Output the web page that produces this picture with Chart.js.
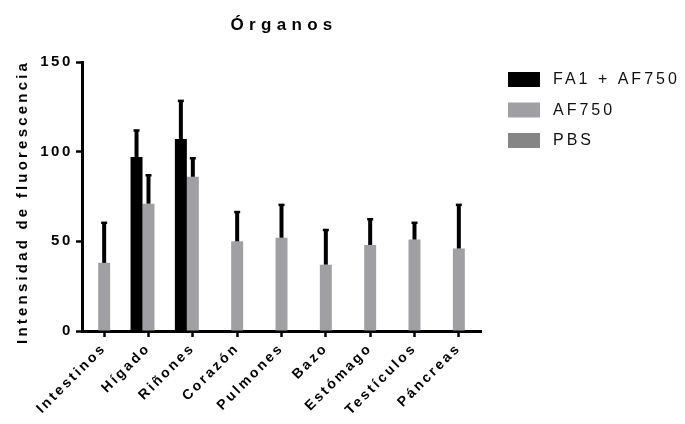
<!DOCTYPE html>
<html lang="es">
<head>
<meta charset="utf-8">
<title>Órganos</title>
<script src="https://cdn.jsdelivr.net/npm/chart.js@4.4.1/dist/chart.umd.min.js"></script>
<style>
  html, body { margin: 0; padding: 0; background: #fff; }
  #wrap { position: relative; width: 685px; height: 424px; }
</style>
</head>
<body>
<div id="wrap"><canvas id="organ-chart"></canvas></div>
<script>
// ============================================
// DATA
// ============================================
const categories = ['Intestinos', 'Hígado', 'Riñones', 'Corazón', 'Pulmones', 'Bazo', 'Estómago', 'Testículos', 'Páncreas'];
const seriesLabels = ['FA1 + AF750', 'AF750', 'PBS'];

const fa1Values   = [null, 97, 107, null, null, null, null, null, null];
const fa1Errors   = [null, 15.5, 22, null, null, null, null, null, null];
const af750Values = [38, 71, 86, 50, 52, 37, 48, 51, 46];
const af750Errors = [23, 16.5, 11, 17, 19, 20, 15, 10, 25];
const pbsValues   = [null, null, null, null, null, null, null, null, null];
const pbsErrors   = [null, null, null, null, null, null, null, null, null];

const yTicks = [0, 50, 100, 150];

const chartTitle = 'Órganos';
const yTitle = 'Intensidad de fluorescencia';
const FONT = "'Liberation Sans', Arial, sans-serif";

// ============================================
// PLUGINS
// ============================================

// spaced-out lettering like the original export
const spacingPlugin = {
  id: 'spacing',
  beforeDraw(chart) {
    chart.ctx.letterSpacing = '2.6px';
  },
  afterDraw(chart) {
    chart.ctx.letterSpacing = '0px';
  }
};

// upward-only error bars on top of each bar
const errorBarPlugin = {
  id: 'errorBars',
  afterDatasetsDraw(chart) {
    const ctx = chart.ctx;
    const yScale = chart.scales.y;
    chart.data.datasets.forEach((ds, di) => {
      const meta = chart.getDatasetMeta(di);
      if (!ds.errors) return;
      meta.data.forEach((bar, i) => {
        const v = ds.data[i];
        const e = ds.errors[i];
        if (v == null || e == null) return;
        const yTop = yScale.getPixelForValue(v + e);
        ctx.save();
        ctx.strokeStyle = '#000';
        ctx.lineWidth = 4;
        ctx.beginPath();
        ctx.moveTo(bar.x, bar.y);
        ctx.lineTo(bar.x, yTop + 1);
        ctx.stroke();
        ctx.lineWidth = 2.5;
        ctx.beginPath();
        ctx.moveTo(bar.x - 3, yTop + 1.2);
        ctx.lineTo(bar.x + 3, yTop + 1.2);
        ctx.stroke();
        ctx.restore();
      });
    });
  }
};

// title, axis title and legend
const textPlugin = {
  id: 'texts',
  afterDraw(chart) {
    const ctx = chart.ctx;
    const area = chart.chartArea;
    ctx.save();
    ctx.fillStyle = '#000';

    // chart title
    ctx.font = 'bold 17px ' + FONT;
    ctx.letterSpacing = '5.3px';
    ctx.textAlign = 'center';
    ctx.textBaseline = 'alphabetic';
    ctx.fillText(chartTitle, (area.left + area.right) / 2 + 2.6, 30);

    // y axis title
    ctx.save();
    ctx.translate(27, (area.top + area.bottom) / 2 + 7);
    ctx.rotate(-Math.PI / 2);
    ctx.font = 'bold 15px ' + FONT;
    ctx.letterSpacing = '3.2px';
    ctx.fillText(yTitle, 1.6, 0);
    ctx.restore();

    // legend
    ctx.font = '16px ' + FONT;
    ctx.letterSpacing = '3px';
    ctx.textAlign = 'left';
    ctx.textBaseline = 'middle';
    chart.data.datasets.forEach((ds, i) => {
      const y0 = 72 + i * 30.5;
      ctx.fillStyle = ds.backgroundColor;
      ctx.fillRect(508, y0, 32, 15);
      ctx.fillStyle = '#111';
      ctx.fillText(ds.label, 553, y0 + 8);
    });
    ctx.restore();
  }
};

// ============================================
// CHART
// ============================================
function initOrganChart() {
  const ctx = document.getElementById('organ-chart');

  const data = {
    labels: categories,
    datasets: [
      { label: seriesLabels[0], data: fa1Values, errors: fa1Errors, backgroundColor: '#000000' },
      { label: seriesLabels[1], data: af750Values, errors: af750Errors, backgroundColor: '#a0a0a4' },
      { label: seriesLabels[2], data: pbsValues, errors: pbsErrors, backgroundColor: '#858585' }
    ]
  };

  const config = {
    type: 'bar',
    data: data,
    options: {
      responsive: true,
      maintainAspectRatio: false,
      animation: false,
      datasets: {
        bar: {
          categoryPercentage: 0.81,
          barPercentage: 1,
          borderWidth: 0
        }
      },
      layout: {
        padding: { left: 0, right: 204, top: 62, bottom: 0 }
      },
      plugins: {
        legend: { display: false },
        title: { display: false },
        tooltip: { enabled: false }
      },
      scales: {
        x: {
          afterFit(scale) { scale.height = 93; },
          grid: {
            offset: false,
            drawOnChartArea: false,
            drawTicks: true,
            tickLength: 6,
            tickWidth: 2.5,
            color: '#000'
          },
          border: { color: '#000', width: 3 },
          ticks: {
            color: '#000',
            minRotation: 45,
            maxRotation: 45,
            autoSkip: false,
            padding: 3,
            font: { family: FONT, size: 14, weight: 'bold' }
          }
        },
        y: {
          min: 0,
          max: 150,
          afterFit(scale) { scale.width = 82; },
          afterBuildTicks(scale) {
            scale.ticks = yTicks.map(v => ({ value: v }));
          },
          grid: {
            drawOnChartArea: false,
            drawTicks: true,
            tickLength: 6,
            tickWidth: 2.5,
            color: '#000'
          },
          border: { color: '#000', width: 3 },
          ticks: {
            color: '#000',
            padding: 3,
            font: { family: FONT, size: 15, weight: 'bold' }
          }
        }
      }
    },
    plugins: [spacingPlugin, errorBarPlugin, textPlugin]
  };

  new Chart(ctx, config);
}

initOrganChart();
</script>
</body>
</html>
